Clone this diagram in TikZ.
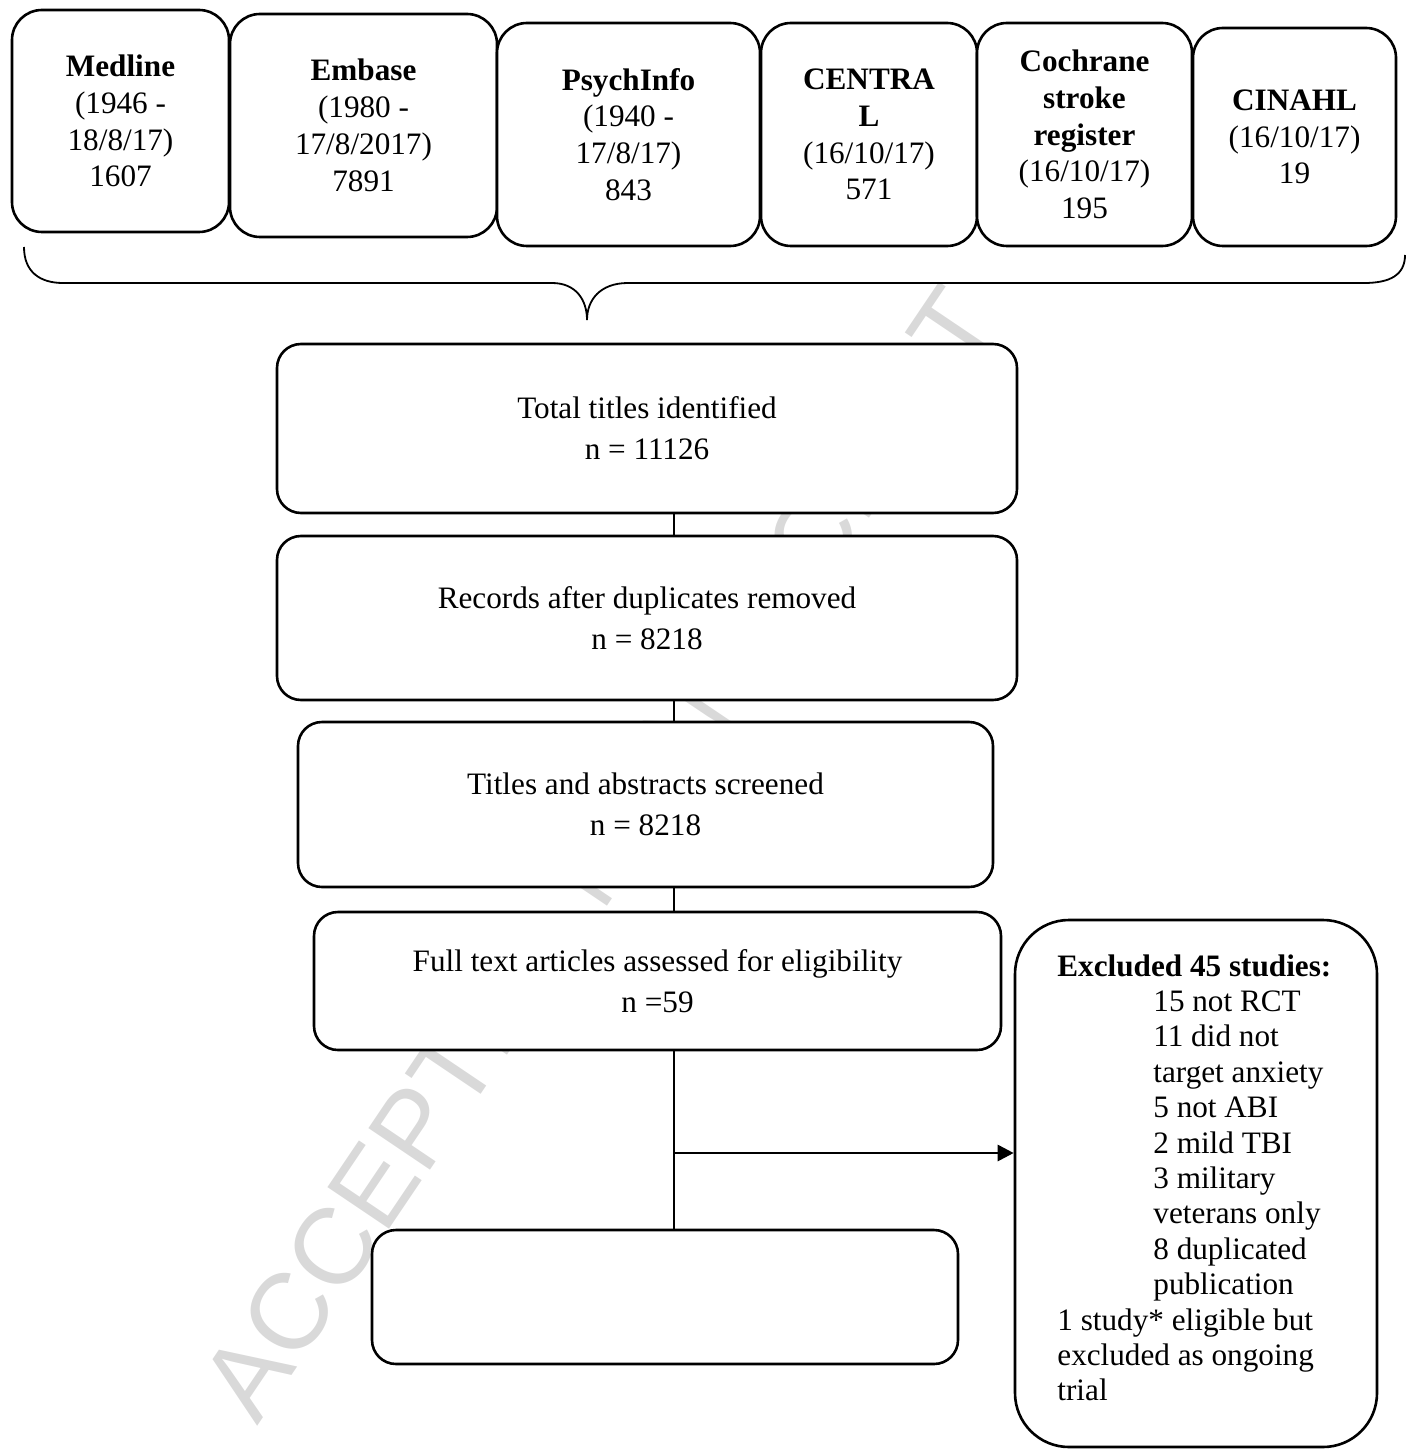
\documentclass[tikz,border=0pt]{standalone}
\usepackage{fontspec}
\setmainfont{Liberation Serif}
\newfontfamily\wmfont{Liberation Sans}
\usetikzlibrary{arrows.meta}
\begin{document}
\begin{tikzpicture}[x=0.5pt,y=-0.5pt,
  every node/.style={font=\fontsize{15.6}{18.4}\selectfont},
  src/.style={draw,line width=1.3pt,rounded corners=15pt,fill=white,align=center,inner sep=0pt},
  flow/.style={draw,line width=1.3pt,rounded corners=12pt,fill=white,align=center,inner sep=0pt,
    font=\fontsize{15.6}{20.5}\selectfont},
  conn/.style={line width=1.4pt},
  brace/.style={line width=0.9pt},
  watermark/.style={rotate=56,text=black!15,inner sep=0pt,font=\wmfont\fontsize{54}{60}\selectfont}
]
\useasboundingbox (0,0) rectangle (1407,1449);

% watermark
\node[watermark] (wm) at (599,853) {ACCEPTED MANUSCRIPT};

% source databases
\node[src,minimum width=108.5pt,minimum height=111pt] (medline) at (120.5,121)
  {\textbf{Medline}\\ (1946 -\\18/8/17)\\1607};
\node[src,minimum width=133.5pt,minimum height=111.5pt] (embase) at (363.5,125.5)
  {\textbf{Embase}\\(1980 -\\17/8/2017)\\7891};
\node[src,minimum width=131.5pt,minimum height=111.5pt] (psych) at (628.5,134.5)
  {\textbf{PsychInfo}\\(1940 -\\17/8/17)\\843};
\node[src,minimum width=108pt,minimum height=111.5pt] (central) at (869,134.5)
  {\textbf{CENTRA}\\\textbf{L}\\(16/10/17)\\571};
\node[src,minimum width=107.5pt,minimum height=111.5pt] (cochrane) at (1084.5,134.5)
  {\textbf{Cochrane}\\\textbf{stroke}\\\textbf{register}\\(16/10/17)\\195};
\node[src,minimum width=101.5pt,minimum height=109pt] (cinahl) at (1294.5,137)
  {\textbf{CINAHL}\\(16/10/17)\\19};

% brace
\coordinate (braceL) at (24,247);
\coordinate (braceTip) at (587,320);
\coordinate (braceR) at (1405,255);
\draw[brace] (braceL) .. controls (24,272) and (40,283) .. (63,283) -- (552,283)
  .. controls (576,283) and (587,300) .. (braceTip)
  .. controls (587,300) and (600,283) .. (628,283) -- (1364,283)
  .. controls (1390,283) and (1405,275) .. (braceR);

% flow boxes
\node[flow,minimum width=370pt,minimum height=84.5pt] (b1) at (647,428.5)
  {Total titles identified\\n = 11126};
\node[flow,minimum width=370pt,minimum height=82pt] (b2) at (647,618)
  {Records after duplicates removed\\n = 8218};
\node[flow,minimum width=347.5pt,minimum height=82.5pt] (b3) at (645.5,804.5)
  {Titles and abstracts screened\\n = 8218};
\node[flow,minimum width=343.5pt,minimum height=69pt] (b4) at (657.5,981)
  {Full text articles assessed for eligibility\\n =59};
\node[flow,minimum width=293pt,minimum height=67pt] (b5) at (665,1297) {};

% excluded box
\node[draw,line width=1.3pt,rounded corners=27pt,fill=white,inner sep=0pt,
  minimum width=181pt,minimum height=263.5pt] (excl) at (1196,1183.5) {};
\node[anchor=north west,align=left,inner sep=0pt,font=\fontsize{15.6}{17.7}\selectfont] (excltext) at (1057,954)
  {\textbf{Excluded 45 studies:}\\
   \hspace*{48pt}15 not RCT\\
   \hspace*{48pt}11 did not\\
   \hspace*{48pt}target anxiety\\
   \hspace*{48pt}5 not ABI\\
   \hspace*{48pt}2 mild TBI\\
   \hspace*{48pt}3 military\\
   \hspace*{48pt}veterans only\\
   \hspace*{48pt}8 duplicated\\
   \hspace*{48pt}publication\\
   1 study* eligible but\\
   excluded as ongoing\\
   trial};

% connectors
\coordinate (sp) at (674,0);
\draw[conn] (b1.south -| sp) -- (b2.north -| sp);
\draw[conn] (b2.south -| sp) -- (b3.north -| sp);
\draw[conn] (b3.south -| sp) -- (b4.north -| sp);
\draw[conn] (b4.south -| sp) -- (b5.north -| sp);
\coordinate (br) at (674,1153);
\draw[conn,-{Triangle[length=8pt,width=8pt]}] (br) -- (excl.west |- br);
\end{tikzpicture}
\end{document}
